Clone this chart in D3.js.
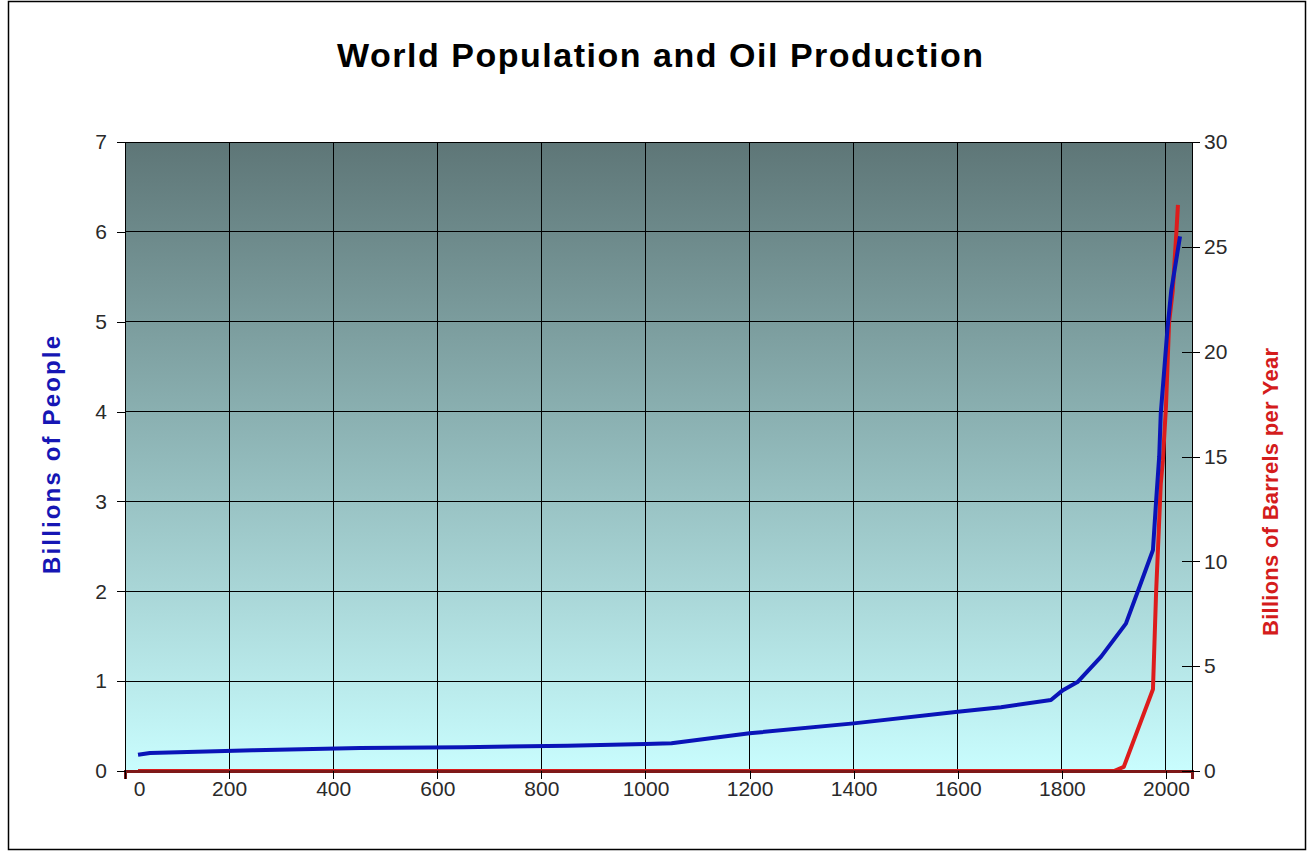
<!DOCTYPE html>
<html lang="en">
<head>
    <meta charset="UTF-8">
    <title>World Population and Oil Production</title>
    <style>
        body {
            margin: 0;
            background-color: #ffffff;
            font-family: Arial, "Liberation Sans", sans-serif;
        }
        .axis text {
            font: 21px Arial, "Liberation Sans", sans-serif;
            fill: #2a2a2a;
        }
        .axis line, .axis path {
            stroke: #000;
            shape-rendering: crispEdges;
        }
        .grid line {
            stroke: #000;
            stroke-width: 1;
            shape-rendering: crispEdges;
        }
    </style>
    <script src="https://d3js.org/d3.v7.min.js"></script>
</head>
<body>
<div id="chart"></div>
<script>
    // population, billions of people
    var popYears = [25, 48, 246, 452, 650, 850, 1000, 1050, 1200, 1400, 1600, 1683, 1779, 1802, 1830, 1875, 1923, 1946, 1975, 1981, 1987, 1990, 1997, 2003, 2010, 2027];
    var popValues = [0.18, 0.2, 0.23, 0.255, 0.265, 0.28, 0.3, 0.31, 0.42, 0.53, 0.66, 0.71, 0.79, 0.9, 0.99, 1.27, 1.64, 2.0, 2.46, 3.0, 3.5, 3.98, 4.49, 4.93, 5.34, 5.95];

    // oil production, billions of barrels per year
    var oilYears = [25, 1900, 1919, 1975, 1981, 1990, 1994, 2000, 2006, 2013, 2020, 2023];
    var oilValues = [0, 0, 0.2, 3.9, 8.5, 13.7, 14.8, 17.4, 21.4, 22.9, 25.7, 27.0];

    var xTicks = [0, 200, 400, 600, 800, 1000, 1200, 1400, 1600, 1800, 2000];
    var leftTicks = [0, 1, 2, 3, 4, 5, 6, 7];
    var rightTicks = [0, 5, 10, 15, 20, 25, 30];

    var width = 1314, height = 857;
    var margin = {top: 142, right: 122, bottom: 86, left: 125};
    var w = width - margin.left - margin.right,
        h = height - margin.top - margin.bottom;

    var svg = d3.select("#chart")
        .append("svg")
        .attr("width", width)
        .attr("height", height);

    // outer frame
    svg.append("rect")
        .attr("x", 8.5).attr("y", 1.5)
        .attr("width", 1297).attr("height", 848)
        .attr("fill", "#fff")
        .attr("stroke", "#000")
        .attr("stroke-width", 1.5);

    var defs = svg.append("defs");
    var grad = defs.append("linearGradient")
        .attr("id", "bg")
        .attr("x1", "0%").attr("y1", "0%")
        .attr("x2", "0%").attr("y2", "100%");
    grad.append("stop").attr("offset", "0%").attr("stop-color", "#5e7677");
    grad.append("stop").attr("offset", "50%").attr("stop-color", "#91b9ba");
    grad.append("stop").attr("offset", "100%").attr("stop-color", "#c9fdfe");

    var x = d3.scaleLinear().domain([0, 2050]).range([0, w]);
    var yL = d3.scaleLinear().domain([0, 7]).range([h, 0]);
    var yR = d3.scaleLinear().domain([0, 30]).range([h, 0]);

    var g = svg.append("g")
        .attr("transform", "translate(" + margin.left + "," + margin.top + ")");

    g.append("rect")
        .attr("width", w)
        .attr("height", h)
        .style("fill", "url(#bg)");

    // gridlines
    g.append("g").attr("class", "grid")
        .selectAll("line.h")
        .data(leftTicks)
        .enter().append("line")
        .attr("x1", 0).attr("x2", w)
        .attr("y1", function(d) { return yL(d); })
        .attr("y2", function(d) { return yL(d); });

    g.append("g").attr("class", "grid")
        .selectAll("line.v")
        .data(xTicks)
        .enter().append("line")
        .attr("y1", 0).attr("y2", h)
        .attr("x1", function(d) { return x(d); })
        .attr("x2", function(d) { return x(d); });

    var popLine = d3.line()
        .x(function(d, i) { return x(popYears[i]); })
        .y(function(d) { return yL(d); });

    var oilLine = d3.line()
        .x(function(d, i) { return x(oilYears[i]); })
        .y(function(d) { return yR(d); });

    g.append("path")
        .datum(oilValues)
        .attr("d", oilLine)
        .attr("fill", "none")
        .attr("stroke", "#dd1c1c")
        .attr("stroke-width", 4)
        .attr("stroke-linejoin", "round");

    g.append("path")
        .datum(popValues)
        .attr("d", popLine)
        .attr("fill", "none")
        .attr("stroke", "#0a14b8")
        .attr("stroke-width", 4)
        .attr("stroke-linejoin", "round");

    // axes
    var xAxis = g.append("g")
        .attr("class", "axis")
        .attr("transform", "translate(0," + h + ")")
        .call(d3.axisBottom(x).tickValues(xTicks).tickSize(8).tickPadding(2).tickFormat(d3.format("d")));
    // flat oil line over the axis reads as dark red
    xAxis.select(".domain").attr("stroke-width", 3).style("stroke", "#7e1818");
    xAxis.selectAll(".tick text")
        .attr("dx", function(d) { return d === 0 ? 14 : 0; });

    var leftAxis = g.append("g")
        .attr("class", "axis")
        .call(d3.axisLeft(yL).tickValues(leftTicks).tickSize(8).tickPadding(10).tickFormat(d3.format("d")));

    var rightAxis = g.append("g")
        .attr("class", "axis")
        .attr("transform", "translate(" + w + ",0)")
        .call(d3.axisRight(yR).tickValues(rightTicks).tickSize(8).tickPadding(4));
    rightAxis.selectAll(".tick line").attr("x1", -10);

    leftAxis.select(".domain").attr("d", "M0,0V" + h);
    rightAxis.select(".domain").attr("d", "M0,0V" + h);

    // title
    svg.append("text")
        .attr("x", 660)
        .attr("y", 67)
        .attr("text-anchor", "middle")
        .attr("textLength", 646)
        .attr("lengthAdjust", "spacing")
        .style("font", "bold 34px Arial, 'Liberation Sans', sans-serif")
        .style("fill", "#000")
        .text("World Population and Oil Production");

    svg.append("text")
        .attr("transform", "translate(60,455) rotate(-90)")
        .attr("text-anchor", "middle")
        .attr("textLength", 238)
        .attr("lengthAdjust", "spacing")
        .style("font", "bold 24px Arial, 'Liberation Sans', sans-serif")
        .style("fill", "#1616b4")
        .text("Billions of People");

    svg.append("text")
        .attr("transform", "translate(1278,492) rotate(-90)")
        .attr("text-anchor", "middle")
        .attr("textLength", 288)
        .attr("lengthAdjust", "spacing")
        .style("font", "bold 22px Arial, 'Liberation Sans', sans-serif")
        .style("fill", "#d41c1c")
        .text("Billions of Barrels per Year");
</script>
</body>
</html>
